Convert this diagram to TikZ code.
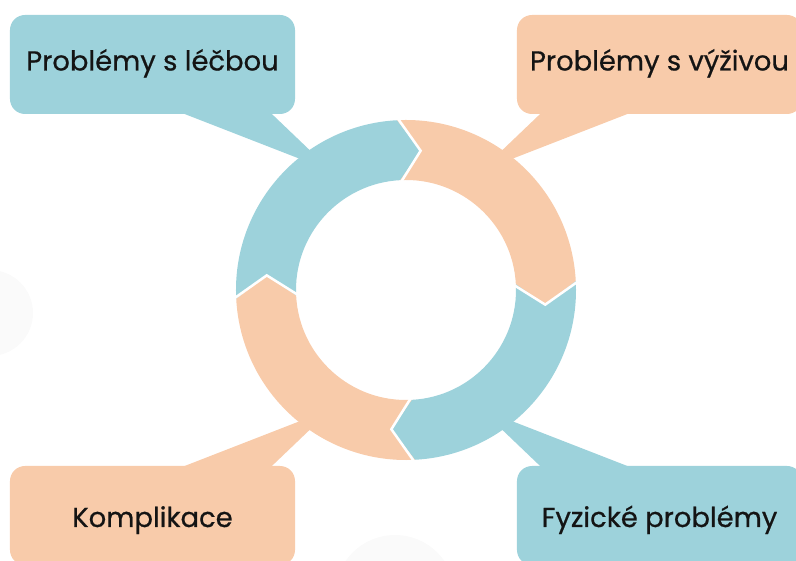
\documentclass[tikz,border=0pt]{standalone}
\usepackage{fontspec}
\setmainfont{Poppins}
\newfontfamily\capfont{Poppins}[FakeBold=0.6]
\usetikzlibrary{positioning}
\definecolor{capblue}{HTML}{9DD2DB}
\definecolor{cappeach}{HTML}{F8CBAA}
\definecolor{captext}{HTML}{141414}

\begin{document}
\begin{tikzpicture}[x=1bp,y=1bp,
	callout/.style={rounded corners=15bp, minimum width=285bp, minimum height=99bp,
		inner sep=0pt, text=captext, font=\capfont\fontsize{27.5}{32}\selectfont},
	topcap/.style={callout, text height=20bp, text depth=8bp},
	botcap/.style={callout, text height=23bp, text depth=0bp},
	sep/.style={draw=white, line width=2.5bp, line join=miter}]
	\useasboundingbox (-406,-271) rectangle (390,290);
	\clip (-406,-271) rectangle (390,290);
	% faint blobs
	\fill[black!2] (-416,-23) circle (43);
	\fill[black!2] (-11,-305) circle (60);
	% callouts
	\node[topcap, fill=capblue] (lecba) at (-253.5,225.5) {Problémy s léčbou};
	\node[topcap, fill=cappeach] (vyziva) at (253.5,225.5) {Problémy s výživou};
	\node[botcap, fill=cappeach] (kompl) at (-253.5,-225.5) {Komplikace};
	\node[botcap, fill=capblue] (fyz) at (253.5,-225.5) {Fyzické problémy};
	% pointers
	\coordinate (tlecba) at (122:140);
	\coordinate (tvyziva) at (58:140);
	\coordinate (tkompl) at (-122:140);
	\coordinate (tfyz) at (-58:140);
	\fill[capblue] ([xshift=27.5bp,yshift=2bp]lecba.south) -- (tlecba) -- ([xshift=117.5bp,yshift=2bp]lecba.south) -- cycle;
	\fill[cappeach] ([xshift=-27.5bp,yshift=2bp]vyziva.south) -- (tvyziva) -- ([xshift=-117.5bp,yshift=2bp]vyziva.south) -- cycle;
	\fill[cappeach] ([xshift=27.5bp,yshift=-2bp]kompl.north) -- (tkompl) -- ([xshift=117.5bp,yshift=-2bp]kompl.north) -- cycle;
	\fill[capblue] ([xshift=-27.5bp,yshift=-2bp]fyz.north) -- (tfyz) -- ([xshift=-117.5bp,yshift=-2bp]fyz.north) -- cycle;
	% ring of arrows
	\foreach \a/\col in {183/capblue, 93/cappeach, 3/capblue, -87/cappeach}
		\fill[\col] (\a:170) arc[start angle=\a, end angle=\a-90, radius=170]
			-- (\a-99:140) -- (\a-90:110) arc[start angle=\a-90, end angle=\a, radius=110]
			-- (\a-9:140) -- cycle;
	\foreach \a in {183, 93, 3, -87}
		\draw[sep] (\a:173) -- (\a-9:140) -- (\a:107);
\end{tikzpicture}
\end{document}
